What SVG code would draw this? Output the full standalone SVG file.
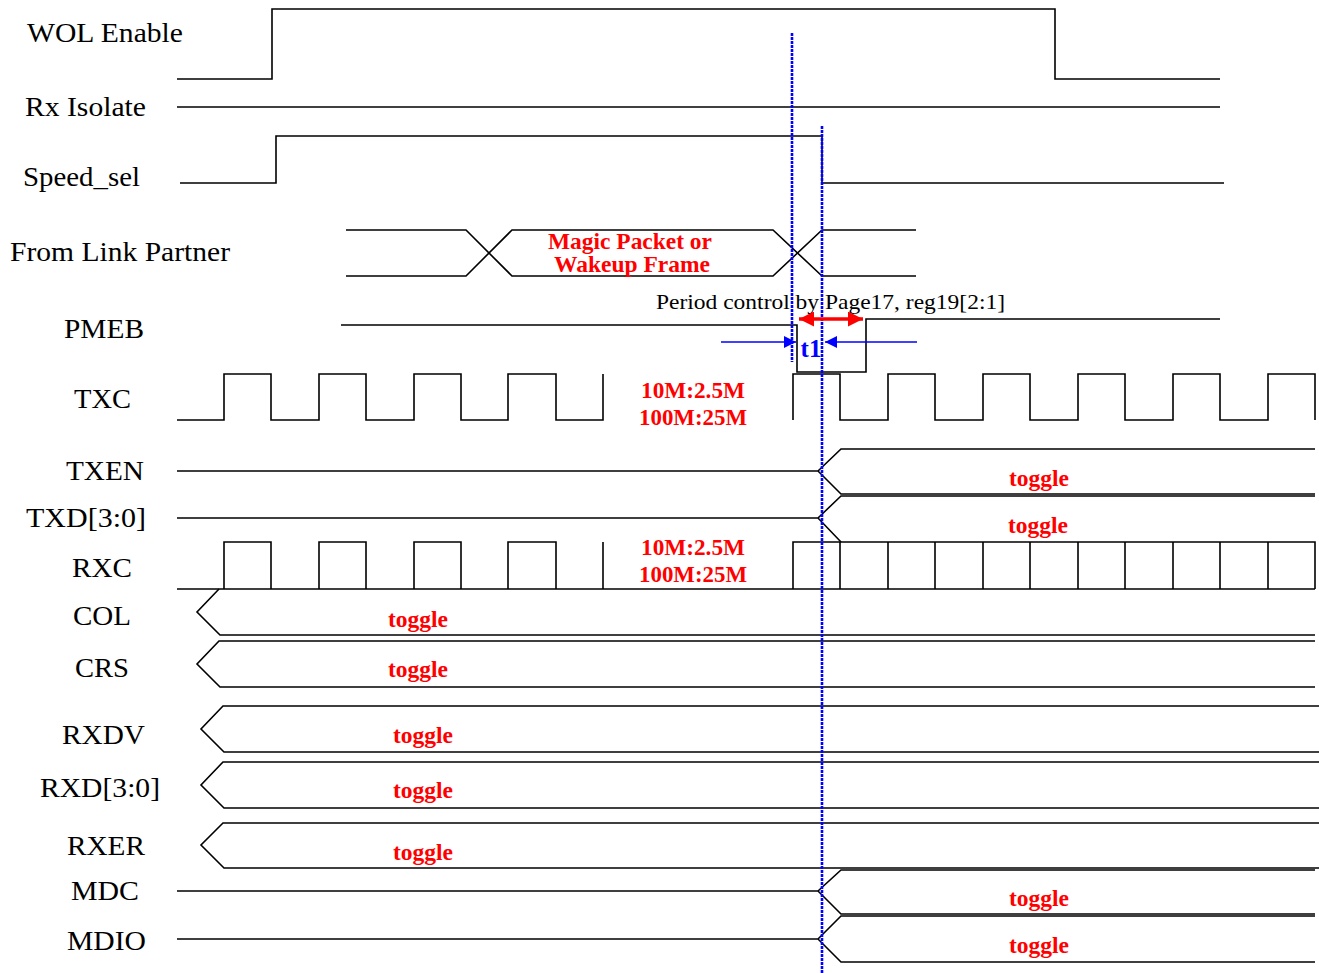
<svg xmlns="http://www.w3.org/2000/svg" width="1319" height="973" viewBox="0 0 1319 973">
<style>
.sig{fill:none;stroke:#000;stroke-width:1.6;stroke-linejoin:miter}
.lbl{font-family:"Liberation Serif","Times New Roman",serif;font-size:28px;fill:#000}
.note{font-family:"Liberation Serif","Times New Roman",serif;font-size:22px;fill:#000}
.red{font-family:"Liberation Serif","Times New Roman",serif;font-size:23px;font-weight:bold;fill:#ff0000;text-anchor:middle}
.blu{font-family:"Liberation Serif","Times New Roman",serif;font-size:25px;font-weight:bold;fill:#0000ff;text-anchor:middle}
.dot{fill:none;stroke:#0000ff;stroke-width:2.6;stroke-dasharray:3 1}
</style>
<defs>
<marker id="ra" viewBox="0 0 10 10" refX="10" refY="5" markerWidth="18" markerHeight="15" markerUnits="userSpaceOnUse" orient="auto-start-reverse"><path d="M0,0 L10,5 L0,10 Z" fill="#ff0000"/></marker>
<marker id="ba" viewBox="0 0 10 10" refX="10" refY="5" markerWidth="14" markerHeight="12" markerUnits="userSpaceOnUse" orient="auto"><path d="M0,0 L10,5 L0,10 Z" fill="#0000ff"/></marker>
</defs>
<rect width="1319" height="973" fill="#fff"/>

<g id="wol">
<text class="lbl" x="27" y="42" textLength="156" lengthAdjust="spacingAndGlyphs">WOL Enable</text>
<path class="sig" d="M177,79 H272 V9 H1055 V79 H1220"/>
</g>
<g id="rxiso">
<text class="lbl" x="25" y="116" textLength="121" lengthAdjust="spacingAndGlyphs">Rx Isolate</text>
<path class="sig" d="M177,107 H1220"/>
</g>
<g id="speed">
<text class="lbl" x="23" y="186" textLength="117" lengthAdjust="spacingAndGlyphs">Speed_sel</text>
<path class="sig" d="M180,183 H276 V136 H822 V183 H1224"/>
</g>
<g id="flp">
<text class="lbl" x="10" y="261" textLength="220" lengthAdjust="spacingAndGlyphs">From Link Partner</text>
<path class="sig" d="M346,230 H466 L512,276 H773 L822,230 H916"/>
<path class="sig" d="M346,276 H466 L512,230 H773 L822,276 H916"/>
<text class="red" x="630" y="249" textLength="164" lengthAdjust="spacingAndGlyphs">Magic Packet or</text>
<text class="red" x="632" y="272" textLength="156" lengthAdjust="spacingAndGlyphs">Wakeup Frame</text>
</g>
<g id="pmeb">
<text class="lbl" x="64" y="338" textLength="80" lengthAdjust="spacingAndGlyphs">PMEB</text>
<path class="sig" d="M341,325 H797 V372 H866 V319 H1220"/>
<text class="note" x="656" y="309" textLength="349" lengthAdjust="spacingAndGlyphs">Period control by Page17, reg19[2:1]</text>
</g>
<g id="txc">
<text class="lbl" x="74" y="408" textLength="57" lengthAdjust="spacingAndGlyphs">TXC</text>
<path class="sig" d="M177,420 H224 V374 H271 V420 H319 V374 H366 V420 H414 V374 H461 V420 H508 V374 H556 V420 H603 V374"/>
<path class="sig" d="M793,420 V374 H840 V420 H888 V374 H935 V420 H983 V374 H1030 V420 H1078 V374 H1125 V420 H1173 V374 H1220 V420 H1268 V374 H1315 V420"/>
<text class="red" x="693" y="398" textLength="104" lengthAdjust="spacingAndGlyphs">10M:2.5M</text>
<text class="red" x="693" y="425" textLength="108" lengthAdjust="spacingAndGlyphs">100M:25M</text>
</g>
<g id="txen">
<text class="lbl" x="66" y="480" textLength="78" lengthAdjust="spacingAndGlyphs">TXEN</text>
<path class="sig" d="M177,471 H818 L841,449 H1315 M818,471 L841,494 H1315"/>
<text class="red" x="1039" y="486" textLength="60" lengthAdjust="spacingAndGlyphs">toggle</text>
</g>
<g id="txd">
<text class="lbl" x="26" y="527" textLength="120" lengthAdjust="spacingAndGlyphs">TXD[3:0]</text>
<path class="sig" d="M177,518 H818 L841,496 H1315 M818,518 L841,542"/>
<text class="red" x="1038" y="533" textLength="60" lengthAdjust="spacingAndGlyphs">toggle</text>
</g>
<g id="rxc">
<text class="lbl" x="72" y="577" textLength="60" lengthAdjust="spacingAndGlyphs">RXC</text>
<path class="sig" d="M177,589 H1315 M224,589 V542 H271 V589 M319,589 V542 H366 V589 M414,589 V542 H461 V589 M508,589 V542 H556 V589 M603,589 V542"/>
<path class="sig" d="M793,589 V542 H1315 V589 M840,542 V589 M888,542 V589 M935,542 V589 M983,542 V589 M1030,542 V589 M1078,542 V589 M1125,542 V589 M1173,542 V589 M1220,542 V589 M1268,542 V589"/>
<text class="red" x="693" y="555" textLength="104" lengthAdjust="spacingAndGlyphs">10M:2.5M</text>
<text class="red" x="693" y="582" textLength="108" lengthAdjust="spacingAndGlyphs">100M:25M</text>
</g>
<g id="col">
<text class="lbl" x="73" y="625" textLength="58" lengthAdjust="spacingAndGlyphs">COL</text>
<path class="sig" d="M219,589 L197,612 L220,635 H1315"/>
<text class="red" x="418" y="627" textLength="60" lengthAdjust="spacingAndGlyphs">toggle</text>
</g>
<g id="crs">
<text class="lbl" x="75" y="677" textLength="54" lengthAdjust="spacingAndGlyphs">CRS</text>
<path class="sig" d="M1315,641 H219 L197,664 L220,687 H1315"/>
<text class="red" x="418" y="677" textLength="60" lengthAdjust="spacingAndGlyphs">toggle</text>
</g>
<g id="rxdv">
<text class="lbl" x="62" y="744" textLength="83" lengthAdjust="spacingAndGlyphs">RXDV</text>
<path class="sig" d="M1319,706 H223 L201,729 L224,752 H1319"/>
<text class="red" x="423" y="743" textLength="60" lengthAdjust="spacingAndGlyphs">toggle</text>
</g>
<g id="rxd">
<text class="lbl" x="40" y="797" textLength="120" lengthAdjust="spacingAndGlyphs">RXD[3:0]</text>
<path class="sig" d="M1319,762 H223 L201,785 L224,808 H1319"/>
<text class="red" x="423" y="798" textLength="60" lengthAdjust="spacingAndGlyphs">toggle</text>
</g>
<g id="rxer">
<text class="lbl" x="67" y="855" textLength="78" lengthAdjust="spacingAndGlyphs">RXER</text>
<path class="sig" d="M1319,823 H223 L201,845 L224,868 H1319"/>
<text class="red" x="423" y="860" textLength="60" lengthAdjust="spacingAndGlyphs">toggle</text>
</g>
<g id="mdc">
<text class="lbl" x="71" y="900" textLength="68" lengthAdjust="spacingAndGlyphs">MDC</text>
<path class="sig" d="M177,891 H818 L841,870 H1315 M818,891 L841,914 H1315"/>
<text class="red" x="1039" y="906" textLength="60" lengthAdjust="spacingAndGlyphs">toggle</text>
</g>
<g id="mdio">
<text class="lbl" x="67" y="950" textLength="79" lengthAdjust="spacingAndGlyphs">MDIO</text>
<path class="sig" d="M177,939 H818 L841,916 H1315 M818,939 L841,962 H1315"/>
<text class="red" x="1039" y="953" textLength="60" lengthAdjust="spacingAndGlyphs">toggle</text>
</g>

<g id="connectors">
<line class="dot" x1="792" y1="33" x2="792" y2="362"/>
<line class="dot" x1="822" y1="126" x2="822" y2="973"/>
<line x1="799" y1="319" x2="863" y2="319" stroke="#ff0000" stroke-width="3.5" marker-start="url(#ra)" marker-end="url(#ra)"/>
<line x1="721" y1="342" x2="796" y2="342" stroke="#0000ff" stroke-width="1.3" marker-end="url(#ba)"/>
<line x1="917" y1="342" x2="825" y2="342" stroke="#0000ff" stroke-width="1.3" marker-end="url(#ba)"/>
<text class="blu" x="811" y="357">t1</text>
</g>
</svg>
